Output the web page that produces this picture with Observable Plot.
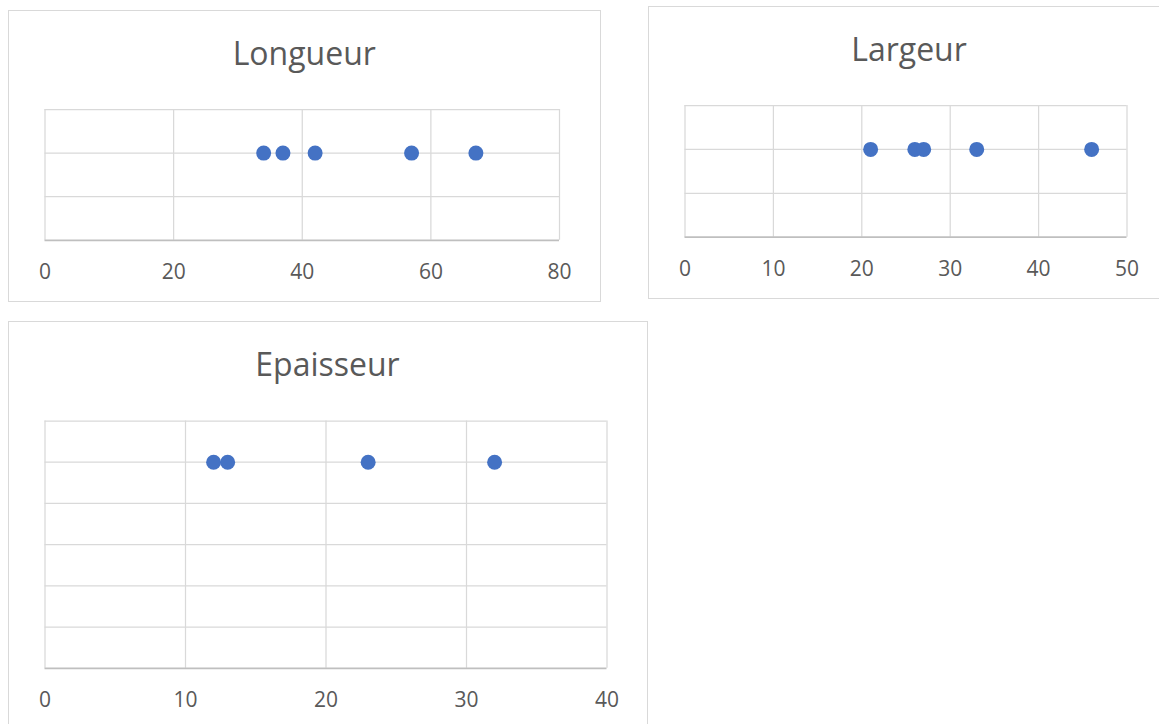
<!DOCTYPE html>
<html>
<head>
<meta charset="utf-8">
<script src="https://cdn.jsdelivr.net/npm/d3@7"></script>
<script src="https://cdn.jsdelivr.net/npm/@observablehq/plot@0.6"></script>
<style>
  html, body { margin: 0; padding: 0; background: #ffffff; }
  body { width: 1159px; height: 724px; overflow: hidden; position: relative; font-family: "Open Sans", sans-serif; }
  .box { position: absolute; box-sizing: border-box; border: 1.5px solid #d9d9d9; background: #ffffff; }
  .title { position: absolute; text-align: center; font-family: "Open Sans", sans-serif; font-size: 32px; line-height: 32px; color: #595959; white-space: nowrap; }
  .chart { position: absolute; }
</style>
</head>
<body>
<script>
// ---- Data ----
const longueurValues = [34, 37, 42, 57, 67];
const longueurLevel  = [1, 1, 1, 1, 1];
const longueurTicks  = [0, 20, 40, 60, 80];
const longueurGrid   = [0, 0.5, 1, 1.5];

const largeurValues = [21, 26, 27, 33, 46];
const largeurLevel  = [1, 1, 1, 1, 1];
const largeurTicks  = [0, 10, 20, 30, 40, 50];
const largeurGrid   = [0, 0.5, 1, 1.5];

const epaisseurValues = [12, 13, 23, 32];
const epaisseurLevel  = [1, 1, 1, 1];
const epaisseurTicks  = [0, 10, 20, 30, 40];
const epaisseurGrid   = [0, 0.2, 0.4, 0.6, 0.8, 1, 1.2];

const titles = ["Longueur", "Largeur", "Epaisseur"];

// ---- Layout (page coordinates) ----
const layouts = [
  { box: {x: 7.5, y: 9.5, w: 593.5, h: 292.5}, plot: {x0: 44, x1: 558.5, y0: 108.5, y1: 239.3}, baseline: 65 },
  { box: {x: 648, y: 6, w: 522, h: 293}, plot: {x0: 684.5, x1: 1126.5, y0: 105, y1: 236.7}, baseline: 61.7 },
  { box: {x: 7.5, y: 320.5, w: 640, h: 420}, plot: {x0: 44, x1: 606, y0: 420, y1: 667.3}, baseline: 376.7 }
];

const series = [
  { values: longueurValues, level: longueurLevel, ticks: longueurTicks, grid: longueurGrid },
  { values: largeurValues, level: largeurLevel, ticks: largeurTicks, grid: largeurGrid },
  { values: epaisseurValues, level: epaisseurLevel, ticks: epaisseurTicks, grid: epaisseurGrid }
];

series.forEach((s, i) => {
  const L = layouts[i];
  const b = L.box, p = L.plot;

  const box = document.createElement("div");
  box.className = "box";
  Object.assign(box.style, {left: b.x + "px", top: b.y + "px", width: b.w + "px", height: b.h + "px"});
  document.body.appendChild(box);

  const t = document.createElement("div");
  t.className = "title";
  t.textContent = titles[i];
  Object.assign(t.style, {left: b.x + "px", width: b.w + "px", top: (L.baseline - 28.4) + "px"});
  document.body.appendChild(t);

  const data = s.values.map((v, k) => ({v, y: s.level[k]}));
  const xMax = s.ticks[s.ticks.length - 1];
  const yMax = s.grid[s.grid.length - 1];

  const chart = Plot.plot({
    width: b.w,
    height: b.h,
    marginLeft: p.x0 - b.x,
    marginRight: b.x + b.w - p.x1,
    marginTop: p.y0 - b.y,
    marginBottom: b.y + b.h - p.y1,
    style: {
      fontFamily: "'Open Sans', sans-serif",
      fontSize: "21px",
      color: "#595959",
      background: "transparent",
      overflow: "visible"
    },
    x: { domain: [0, xMax], ticks: s.ticks, tickSize: 0, tickPadding: 24, label: null, tickFormat: d => String(d) },
    y: { domain: [0, yMax], axis: null },
    marks: [
      Plot.ruleX(s.ticks, {stroke: "#d9d9d9", strokeWidth: 1.25}),
      Plot.ruleY(s.grid.slice(1), {stroke: "#d9d9d9", strokeWidth: 1.25}),
      Plot.ruleY([0], {stroke: "#bfbfbf", strokeWidth: 1.75}),
      Plot.dot(data, {x: "v", y: "y", r: 7.5, fill: "#4472C4", stroke: "none"})
    ]
  });
  chart.classList.add("chart");
  chart.style.left = b.x + "px";
  chart.style.top = b.y + "px";
  document.body.appendChild(chart);
});
</script>
</body>
</html>
